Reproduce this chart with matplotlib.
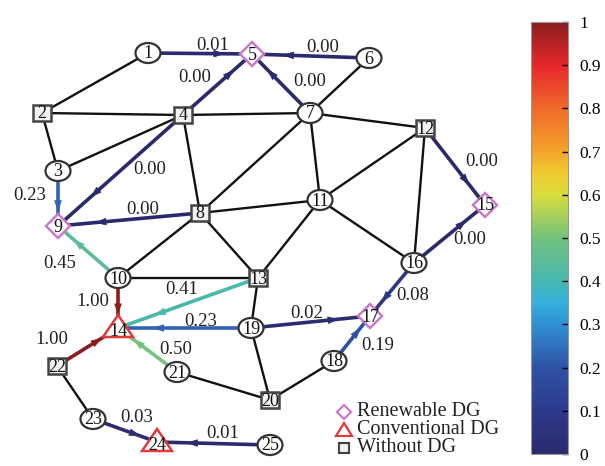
import matplotlib
matplotlib.use("Agg")
import matplotlib.pyplot as plt
import numpy as np
from matplotlib.colors import LinearSegmentedColormap, Normalize
from matplotlib.cm import ScalarMappable
from matplotlib.patches import Ellipse, Polygon, Rectangle, FancyArrowPatch

plt.rcParams['font.family'] = ['Liberation Serif', 'DejaVu Serif']

# node layout (pixel positions of the original drawing) and node kinds
node_x = [148, 42, 58, 183, 252, 369, 310, 200, 58, 118, 320, 425, 258,
          118, 485, 414, 370, 334, 251, 270, 177, 57, 93, 157, 270]
node_y = [53, 113, 171, 115, 54, 58, 113, 213, 226, 278, 200, 128, 278,
          328, 205, 263, 316, 361, 328, 400, 372, 366, 419, 442, 445]
node_kind = ['c', 's', 'c', 's', 'd', 'c', 'c', 's', 'd', 'c', 'c', 's', 's',
             't', 'd', 'c', 'd', 'c', 'c', 's', 'c', 's', 'c', 't', 'c']

# plain lines
lines = [(1, 2), (2, 4), (2, 3), (3, 4), (4, 7), (4, 8), (6, 7), (7, 8),
         (7, 11), (7, 12), (8, 11), (8, 10), (8, 13), (11, 12), (11, 16),
         (11, 13), (12, 16), (10, 13), (13, 19), (19, 20), (20, 21),
         (20, 18), (22, 23)]

# directed flows with values
flow_from = [1, 6, 4, 7, 4, 3, 8, 12, 16, 10, 10, 13, 19, 21, 22, 19, 16, 18, 23, 25]
flow_to = [5, 5, 5, 5, 9, 9, 9, 15, 15, 9, 14, 14, 14, 14, 14, 17, 17, 17, 24, 24]
flow_val = [0.01, 0.00, 0.00, 0.00, 0.00, 0.23, 0.00, 0.00, 0.00, 0.45,
            1.00, 0.41, 0.23, 0.50, 1.00, 0.02, 0.08, 0.19, 0.03, 0.01]
label_x = [213, 323, 195, 310, 150, 30, 143, 482, 470, 60,
           93, 182, 201, 176, 52, 307, 413, 378, 137, 223]
label_y = [45, 47, 78, 82, 170, 196, 209, 161, 239, 264,
           301, 289, 322, 350, 340, 313, 296, 345, 418, 434]

legend_labels = ['Renewable DG', 'Conventional DG', 'Without DG']

cmap = LinearSegmentedColormap.from_list('flow', [
    (0.0, '#2b2a6c'), (0.1, '#2d3a8c'), (0.2, '#2f52a6'), (0.3, '#3090d2'),
    (0.35, '#36b0de'), (0.4, '#46b8b0'), (0.5, '#72c27c'), (0.6, '#d8dc3c'),
    (0.65, '#f0cc30'), (0.7, '#f4a42a'), (0.8, '#f06a2a'), (0.9, '#e6282a'),
    (1.0, '#8a1e1e')])

fig = plt.figure(figsize=(6.05, 4.66), dpi=100)
ax = fig.add_axes([0, 0, 1, 1])
ax.set_xlim(0, 605)
ax.set_ylim(466, 0)
ax.axis('off')

xs = np.array(node_x, float)
ys = np.array(node_y, float)

for a, b in lines:
    ax.plot([xs[a-1], xs[b-1]], [ys[a-1], ys[b-1]], color='#111111', lw=1.7,
            zorder=1, solid_capstyle='round')

for i in range(len(flow_val)):
    a, b = flow_from[i] - 1, flow_to[i] - 1
    c = cmap(flow_val[i])
    ax.plot([xs[a], xs[b]], [ys[a], ys[b]], color=c, lw=2.6, zorder=2)
    t0, t1 = 0.6, 0.74
    p0 = (xs[a] + t0 * (xs[b] - xs[a]), ys[a] + t0 * (ys[b] - ys[a]))
    p1 = (xs[a] + t1 * (xs[b] - xs[a]), ys[a] + t1 * (ys[b] - ys[a]))
    ax.add_patch(FancyArrowPatch(p0, p1, arrowstyle='-|>,head_length=0.9,head_width=0.3',
                                 mutation_scale=8, color=c, lw=0.5, shrinkA=0, shrinkB=0,
                                 zorder=3))
    ax.text(label_x[i], label_y[i], '%.2f' % flow_val[i], fontsize=13.5,
            color='#222222', ha='center', va='center', zorder=6)

for i in range(len(node_x)):
    x, y, k = xs[i], ys[i], node_kind[i]
    dy = 0
    if k == 'c':
        ax.add_patch(Ellipse((x, y), 25, 20, facecolor='white', edgecolor='#333333',
                             lw=1.6, zorder=4))
    elif k == 's':
        ax.add_patch(Rectangle((x - 9, y - 8), 18, 16, facecolor='#f2f2f2',
                               edgecolor='#444444', lw=1.8, zorder=4))
    elif k == 'd':
        ax.add_patch(Polygon([(x - 12, y), (x, y - 12), (x + 12, y), (x, y + 12)],
                             closed=True, facecolor='white', edgecolor='#c97bc9',
                             lw=1.8, zorder=4))
    else:
        ax.add_patch(Polygon([(x - 15, y + 9), (x + 15, y + 9), (x, y - 13)],
                             closed=True, facecolor='white', edgecolor='#e03a3a',
                             lw=1.8, zorder=4))
        dy = 2
    ax.text(x, y + dy + 1, str(i + 1), fontsize=13, ha='center', va='center',
            color='#111111', zorder=5)

# legend
leg_y = [412, 430, 448]
ax.add_patch(Polygon([(337, leg_y[0]), (344, leg_y[0] - 7), (351, leg_y[0]), (344, leg_y[0] + 7)],
                     closed=True, facecolor='white', edgecolor='#c97bc9', lw=1.6))
ax.add_patch(Polygon([(336, leg_y[1] + 6), (352, leg_y[1] + 6), (344, leg_y[1] - 7)],
                     closed=True, facecolor='white', edgecolor='#e03a3a', lw=1.6))
ax.add_patch(Rectangle((339, leg_y[2] - 5), 10, 10, facecolor='#f2f2f2',
                       edgecolor='#444444', lw=1.5))
for yy, lab in zip(leg_y, legend_labels):
    ax.text(357, yy, lab, fontsize=14.5, ha='left', va='center', color='#222222')

# colorbar
cax = fig.add_axes([531 / 605, 12 / 466, 37 / 605, 432 / 466])
cb = fig.colorbar(ScalarMappable(norm=Normalize(0, 1), cmap=cmap), cax=cax,
                  ticks=np.linspace(0, 1, 11))
cb.ax.set_yticklabels(['0', '0.1', '0.2', '0.3', '0.4', '0.5', '0.6', '0.7',
                       '0.8', '0.9', '1'])
cb.ax.tick_params(direction='in', length=4, width=1, labelsize=12.5, pad=8)
cb.outline.set_edgecolor('#999999')

fig.savefig('out.png', dpi=100)
